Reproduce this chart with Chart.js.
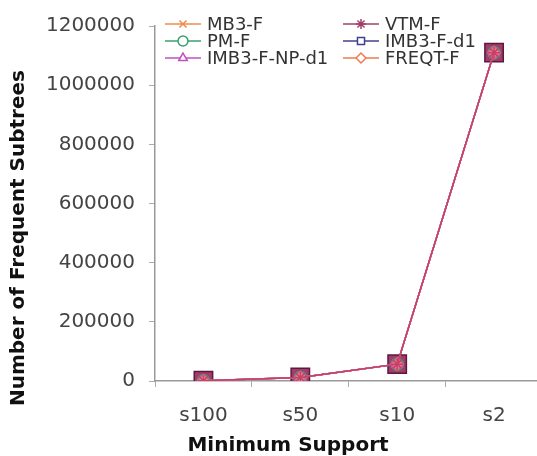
<!DOCTYPE html>
<html>
<head>
<meta charset="utf-8">
<script src="https://cdn.jsdelivr.net/npm/chart.js@4.4.0/dist/chart.umd.min.js"></script>
<style>
  html, body { margin: 0; padding: 0; background: #fff; overflow: hidden; }
  #wrap { width: 557px; height: 456px; }
</style>
</head>
<body>
<div id="wrap"><canvas id="chart" width="557" height="456"></canvas></div>
<script>
// data (all six series sit on top of each other)
const supports = ["s100", "s50", "s10", "s2"];
const mb3f      = [1000, 12000, 57000, 1110000];
const vtmf      = [1000, 12000, 57000, 1110000];
const pmf       = [1000, 12000, 57000, 1110000];
const imb3fd1   = [1000, 12000, 57000, 1110000];
const imb3fnpd1 = [1000, 12000, 57000, 1110000];
const freqtf    = [1000, 12000, 57000, 1110000];
const yTicks = [0, 200000, 400000, 600000, 800000, 1000000, 1200000];

const FONT = "'DejaVu Sans', sans-serif";

function series(label, data, color, style, radius, order, fill) {
    return {
        label: label,
        data: data,
        borderColor: color,
        backgroundColor: fill || "rgba(255,255,255,0)",
        borderWidth: 1.5,
        pointStyle: style,
        pointRadius: radius,
        pointBorderColor: color,
        pointBackgroundColor: fill || "rgba(255,255,255,0)",
        pointBorderWidth: 1.5,
        tension: 0,
        order: order
    };
}

const datasets = [
    series("MB3-F", mb3f, "#f08a4a", "crossRot", 6, 5),
    series("VTM-F", vtmf, "#c8406a", "star", 6, 0),
    series("PM-F", pmf, "#3aa06e", "circle", 6, 4),
    series("IMB3-F-d1", imb3fd1, "#5a1a40", "rect", 13, 6, "#a63a6c"),
    series("IMB3-F-NP-d1", imb3fnpd1, "#c050c0", "triangle", 6, 2),
    series("FREQT-F", freqtf, "#e86a80", "rectRot", 6, 1, "#e890a8")
];

// legend styled like the figure: 2 columns, line + hollow marker
const legendColors = {
    "MB3-F": "#f08a4a", "VTM-F": "#a0406a", "PM-F": "#3aa06e",
    "IMB3-F-d1": "#404090", "IMB3-F-NP-d1": "#c050c0", "FREQT-F": "#f07a50"
};
const legendPlugin = {
    id: "paperLegend",
    afterDraw(chart) {
        const ctx = chart.ctx;
        const cols = [165, 343];
        const rows = [24, 41, 58];
        ctx.save();
        ctx.font = "18px " + FONT;
        ctx.textBaseline = "middle";
        chart.data.datasets.forEach((ds, i) => {
            const x = cols[i % 2], y = rows[Math.floor(i / 2)];
            const c = legendColors[ds.label];
            ctx.strokeStyle = c;
            ctx.fillStyle = "#fff";
            ctx.lineWidth = 1.5;
            ctx.beginPath();
            ctx.moveTo(x, y);
            ctx.lineTo(x + 36, y);
            ctx.stroke();
            Chart.helpers.drawPoint(ctx, {pointStyle: ds.pointStyle, radius: 5, borderWidth: 1.5, rotation: 0}, x + 18, y);
            ctx.fillStyle = "#333";
            ctx.fillText(ds.label, x + 42, y + 1);
        });
        ctx.restore();
    }
};

// axis titles placed as in the figure
const titlePlugin = {
    id: "axisTitles",
    afterDraw(chart) {
        const ctx = chart.ctx;
        ctx.save();
        ctx.fillStyle = "#111";
        ctx.font = "bold 20px " + FONT;
        ctx.textAlign = "center";
        ctx.textBaseline = "middle";
        ctx.fillText("Minimum Support", 288, 446);
        ctx.translate(19, 238);
        ctx.rotate(-Math.PI / 2);
        ctx.font = "bold 20px " + FONT;
        ctx.fillText("Number of Frequent Subtrees", 0, 0);
        ctx.restore();
    }
};

new Chart(document.getElementById("chart"), {
    type: "line",
    data: { labels: supports, datasets: datasets },
    plugins: [legendPlugin, titlePlugin],
    options: {
        responsive: false,
        animation: false,
        layout: { padding: { top: 25, right: 2, left: 0, bottom: 0 } },
        plugins: { legend: { display: false }, tooltip: { enabled: false } },
        scales: {
            x: {
                type: "category",
                offset: true,
                afterFit: s => { s.height = 75; },
                grid: { offset: true, drawOnChartArea: false, drawTicks: true, tickLength: 6, color: "#aaa" },
                border: { color: "#999", width: 1.5 },
                ticks: { color: "#444", font: { family: FONT, size: 20 }, padding: 17 }
            },
            y: {
                min: 0,
                max: 1200000,
                afterFit: s => { s.width = 155; },
                afterBuildTicks: s => { s.ticks = yTicks.map(v => ({ value: v })); },
                grid: { drawOnChartArea: false, drawTicks: true, tickLength: 6, color: "#aaa" },
                border: { color: "#999", width: 1.5 },
                ticks: { color: "#444", font: { family: FONT, size: 20 }, padding: 14, callback: v => String(v) }
            }
        }
    }
});
</script>
</body>
</html>
